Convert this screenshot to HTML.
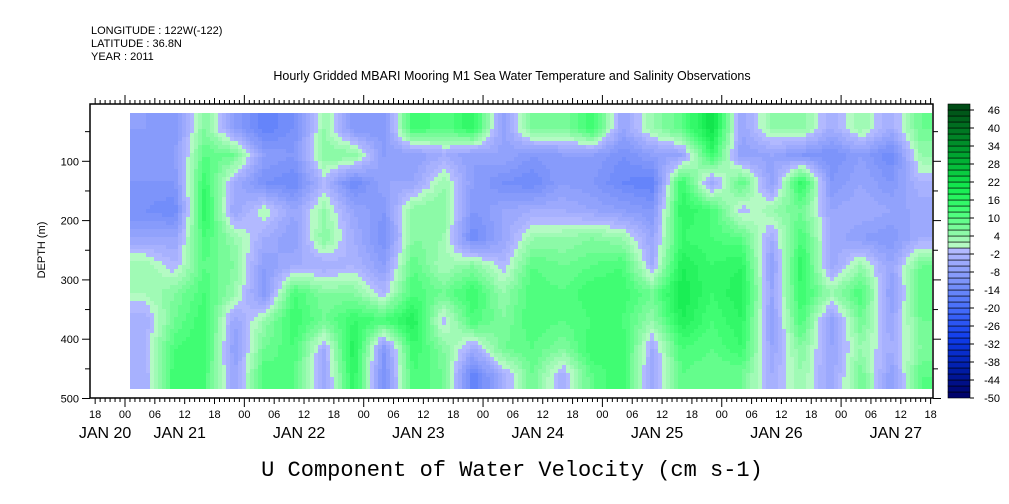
<!DOCTYPE html>
<html><head><meta charset="utf-8"><style>
body{margin:0;background:#fff;}
svg{display:block;font-family:"Liberation Sans",sans-serif;}
</style></head><body>
<svg id="chart" width="1009" height="504" viewBox="0 0 1009 504" xmlns="http://www.w3.org/2000/svg">
<defs>
<clipPath id="dclip"><rect x="130" y="113" width="802" height="276"/></clipPath>
</defs>
<g font-size="11" fill="#000">
<text x="91" y="34">LONGITUDE : 122W(-122)</text>
<text x="91" y="47">LATITUDE : 36.8N</text>
<text x="91" y="60">YEAR : 2011</text>
</g>
<text x="512" y="80" font-size="12.5" text-anchor="middle">Hourly Gridded MBARI Mooring M1 Sea Water Temperature and Salinity Observations</text>
<g id="heat" clip-path="url(#dclip)"><g id="cells" shape-rendering="crispEdges"></g></g>
<rect x="90" y="104" width="843" height="294" fill="none" stroke="#000" stroke-width="1.5"/>
<g id="axes"></g>
<g id="cbar"></g>
<text transform="translate(45,250) rotate(-90)" font-size="11" text-anchor="middle">DEPTH (m)</text>
<text x="512" y="476" font-family="Liberation Mono, monospace" font-size="22" text-anchor="middle">U Component of Water Velocity (cm s-1)</text>
</svg>
<script>
// Data: 27 columns (6-hour steps from Jan 21 ~01h), 10 depth rows (~20–485 m)
const colStartHours = 1;
const colStepHours = 6;
const depthTop = 20, depthBottom = 485;
const row0 = [-8,-10,6,-8,-16,-12,4,-10,-10,14,10,16,-8,8,6,14,-6,4,10,22,-6,4,6,-4,4,-4,8];
const row1 = [-10,-8,10,8,-8,-10,6,6,-8,-8,-4,-8,-6,-10,-8,-8,-12,-8,-6,14,-8,-6,-10,-12,-8,-14,4];
const row2 = [-10,-10,14,-4,-12,-14,-2,-14,-6,-6,4,-8,-12,-14,-8,-10,-14,-16,14,-6,10,-8,16,-10,-6,-10,-2];
const row3 = [-12,-14,16,-6,2,-6,4,-6,-10,6,6,-10,-6,-4,-4,-6,-8,-10,16,12,-2,4,8,-6,-4,-6,-6];
const row4 = [-6,-6,12,4,-4,-8,6,-4,-12,6,4,-14,-6,4,4,6,4,-6,14,12,10,-4,12,-4,-8,-10,-4];
const row5 = [4,-2,10,6,-8,-4,-4,-2,-8,10,2,6,-2,10,8,10,12,-4,18,14,16,-8,16,-6,4,-6,8];
const row6 = [2,6,12,4,-10,12,6,6,-2,12,8,14,4,12,10,14,14,8,20,14,18,-6,14,4,12,-8,10];
const row7 = [-4,8,14,-6,4,14,8,14,12,18,-2,12,6,12,10,12,12,4,18,12,16,-8,12,-8,8,-6,8];
const row8 = [-2,12,14,-8,8,12,-4,18,-10,14,6,-4,8,10,6,14,14,-4,12,10,14,-6,6,-6,4,-4,6];
const row9 = [-4,14,12,-6,12,10,-6,16,-12,12,8,-16,-4,8,-4,10,14,-6,10,8,8,-4,4,-6,8,-8,10];
const grid = [row0,row1,row2,row3,row4,row5,row6,row7,row8,row9];
const hourLabels = ["18","00","06","12","18","00","06","12","18","00","06","12","18","00","06","12","18","00","06","12","18","00","06","12","18","00","06","12","18"];
const dateLabels = ["JAN 20","JAN 21","JAN 22","JAN 23","JAN 24","JAN 25","JAN 26","JAN 27"];
const depthTicks = [100,200,300,400,500];
const cbarLabels = [46,40,34,28,22,16,10,4,-2,-8,-14,-20,-26,-32,-38,-44,-50];

const NS="http://www.w3.org/2000/svg";
const X0=125, PXH=119.35/24;
const xH=h=>X0+h*PXH;
const yD=d=>102+d*0.593;
function mk(tag,attrs,parent){const e=document.createElementNS(NS,tag);for(const k in attrs)e.setAttribute(k,attrs[k]);parent.appendChild(e);return e;}
const stops=[[-50,[0,0,100]],[-40,[0,30,170]],[-30,[15,60,235]],[-20,[70,110,250]],[-12,[120,145,250]],[-6,[150,165,252]],[-1,[178,185,255]],[1,[180,250,195]],[6,[130,250,160]],[12,[70,255,120]],[20,[20,235,80]],[30,[0,170,50]],[48,[0,70,20]]];
function col(v){
  if(v<=stops[0][0])return stops[0][1];
  for(let i=1;i<stops.length;i++){if(v<=stops[i][0]){const a=stops[i-1],b=stops[i];const t=(v-a[0])/(b[0]-a[0]);return a[1].map((c,j)=>Math.round(c+(b[1][j]-c)*t));}}
  return stops[stops.length-1][1];
}
// quantize to 2-unit bands like contour fill
const qcol=v=>col(Math.floor(v/2)*2+1);
const rgb=c=>`rgb(${c[0]},${c[1]},${c[2]})`;
const cells=document.getElementById('cells');
const nR=grid.length, nC=grid[0].length, dStep=(depthBottom-depthTop)/nR;
// bilinear interpolation between cell centres
function val(h,d){
  let fc=(h-colStartHours)/colStepHours-0.5, fr=(d-depthTop)/dStep-0.5;
  fc=Math.max(0,Math.min(nC-1,fc)); fr=Math.max(0,Math.min(nR-1,fr));
  const c0=Math.floor(fc),r0=Math.floor(fr),c1=Math.min(nC-1,c0+1),r1=Math.min(nR-1,r0+1);
  const tc=fc-c0,tr=fr-r0;
  const a=grid[r0][c0]*(1-tc)+grid[r0][c1]*tc, b=grid[r1][c0]*(1-tc)+grid[r1][c1]*tc;
  return a*(1-tr)+b*tr;
}
const S=4;
for(let y=113;y<389;y+=S){
  for(let x=130;x<932;x+=S){
    const h=(x+S/2-X0)/PXH, d=(y+S/2-102)/0.593;
    mk('rect',{x:x,y:y,width:S,height:S,fill:rgb(qcol(val(h,d)))},cells);
  }
}
const ax=document.getElementById('axes');
for(let h=-6;h<=163;h++){
  const x=xH(h); if(x<90||x>933)continue;
  const major=(h%24===0), mid=(h%6===0);
  const L=major?9:(mid?6:4);
  mk('line',{x1:x,x2:x,y1:104,y2:104-L,stroke:'#000','stroke-width':1},ax);
  mk('line',{x1:x,x2:x,y1:398,y2:398+L,stroke:'#000','stroke-width':1},ax);
}
hourLabels.forEach((t,i)=>{
  const e=mk('text',{x:xH(-6+i*6),y:418,'font-size':11,'text-anchor':'middle'},ax);e.textContent=t;
  
  
});
dateLabels.forEach((t,i)=>{
  const h=(i===0)?-4:(i-1)*24+11;
  const e=mk('text',{x:xH(h),y:438,'font-size':16,'text-anchor':'middle'},ax);e.textContent=t;
  
  
});
for(let d=50;d<=500;d+=50){
  const y=yD(d);const L=(d%100===0)?8:5;
  mk('line',{x1:90-L,x2:90,y1:y,y2:y,stroke:'#000'},ax);
  mk('line',{x1:933,x2:933+L,y1:y,y2:y,stroke:'#000'},ax);
}
depthTicks.forEach(d=>{
  const e=mk('text',{x:79,y:yD(d)+4,'font-size':11,'text-anchor':'end'},ax);e.textContent=d;
  
  
});
const cb=document.getElementById('cbar');
const nB=49, cbTop=104, cbBot=398, bh=(cbBot-cbTop)/nB;
for(let i=0;i<nB;i++){
  const v=-49+i*2;
  const e=mk('rect',{x:948,y:cbBot-(i+1)*bh,width:22,height:bh,fill:rgb(col(v)),stroke:'#000','stroke-width':0.6},cb);
  
  
}
cbarLabels.forEach(v=>{
  const y=cbBot-(v+50)/2*bh;
  mk('line',{x1:970,x2:974,y1:y,y2:y,stroke:'#000'},cb);
  const e=mk('text',{x:1000,y:y+4,'font-size':11,'text-anchor':'end'},cb);e.textContent=v;
  
  
});
</script>
</body></html>
